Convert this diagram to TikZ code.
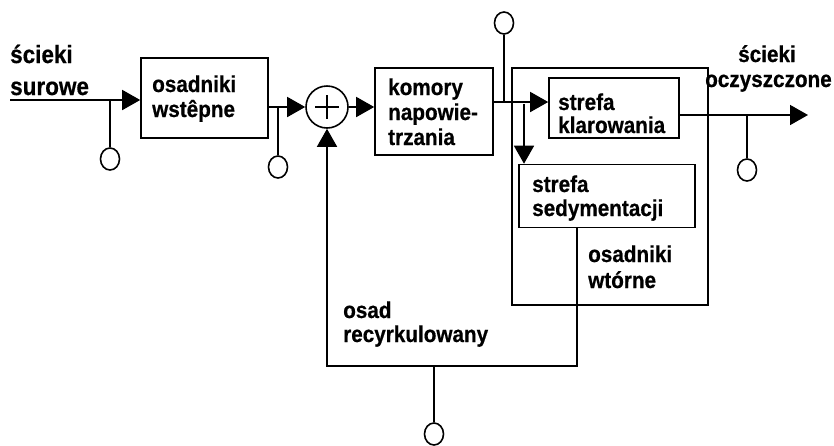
\documentclass[tikz,border=0pt]{standalone}
\usepackage{fontspec}
\setmainfont{Liberation Sans}[FakeStretch=0.9,BoldFeatures={FakeBold=0.6}]
\usetikzlibrary{arrows.meta,shapes.geometric}
\begin{document}
\begin{tikzpicture}[x=1pt,y=-1pt,
  box/.style={draw,line width=1.6pt,inner sep=0pt},
  lbl/.style={anchor=base west,inner sep=0pt,font=\bfseries\fontsize{23}{26}\selectfont},
  biglbl/.style={lbl,font=\bfseries\fontsize{25}{28}\selectfont},
  conn/.style={line width=1.6pt},
  arr/.style={conn,-{Triangle[length=18pt,width=20pt]}},
  probe/.style={draw,ellipse,line width=1.6pt,minimum width=19pt,minimum height=22pt,inner sep=0pt},
]
\useasboundingbox (0,0) rectangle (834,445);

% boxes
\node[box,minimum width=127pt,minimum height=80pt] (A) at (204.5,98) {};
\node[box,minimum width=118pt,minimum height=87pt] (K) at (434,111.5) {};
\node[box,minimum width=196pt,minimum height=237pt] (W) at (610,186.5) {};
\node[box,minimum width=130pt,minimum height=60pt] (KL) at (614,108) {};
\node[box,minimum width=176pt,minimum height=63pt] (SD) at (607,196) {};
\node[draw,circle,line width=1.6pt,minimum size=42pt,inner sep=0pt] (S) at (327,107) {};
\draw[conn] (S.center) ++(-12,0) -- ++(24,0);
\draw[conn] (S.center) ++(0,-12) -- ++(0,24);

% labels
\node[biglbl] (t1) at (10,63) {ścieki};
\node[biglbl] (t2) at (10,95) {surowe};
\node[lbl] (a1) at (152,92) {osadniki};
\node[lbl] (a2) at (152,117) {wstêpne};
\node[lbl] (k1) at (388,95) {komory};
\node[lbl] (k2) at (388,120) {napowie-};
\node[lbl] (k3) at (388,145) {trzania};
\node[lbl] (l1) at (558,110) {strefa};
\node[lbl] (l2) at (558,133) {klarowania};
\node[lbl] (s1) at (532,192) {strefa};
\node[lbl] (s2) at (532,216) {sedymentacji};
\node[lbl] (w1) at (588,262) {osadniki};
\node[lbl] (w2) at (588,288) {wtórne};
\node[lbl] (o1) at (738,62) {ścieki};
\node[lbl] (o2) at (705,87) {oczyszczone};
\node[lbl] (r1) at (343,318) {osad};
\node[lbl] (r2) at (343,342) {recyrkulowany};

% probes
\node[probe] (p1) at (110,159) {};
\node[probe] (p2) at (278,167) {};
\node[probe] (p3) at (504,23) {};
\node[probe] (p4) at (747,170) {};
\node[probe] (p5) at (434,434) {};

% coordinates
\coordinate (in) at (10,100);
\coordinate (b1) at (110,100);
\coordinate (b2) at (278,107);
\coordinate (j1) at (504,102);
\coordinate (d1) at (524,104);
\coordinate (out) at (808,115);
\coordinate (b4) at (747,115);
\coordinate (rc) at (577,366);
\coordinate (b5) at (434,366);

% connectors
\draw[arr] (in) -- (A.west |- in);
\draw[conn] (b1) -- (p1.north);
\draw[arr] (A.east |- S) -- (S.west);
\draw[conn] (b2) -- (p2.north);
\draw[arr] (S.east) -- (S.east -| K.west);
\draw[arr] (K.east |- j1) -- (KL.west |- j1);
\draw[conn] (p3.south) -- (j1);
\draw[arr] (d1) -- (d1 |- SD.north);
\draw[arr] (KL.east |- out) -- (out);
\draw[conn] (b4) -- (p4.north);
\draw[arr] (SD.south -| rc) -- (rc) -- (S.south |- rc) -- (S.south);
\draw[conn] (b5) -- (p5.north);
\end{tikzpicture}
\end{document}
